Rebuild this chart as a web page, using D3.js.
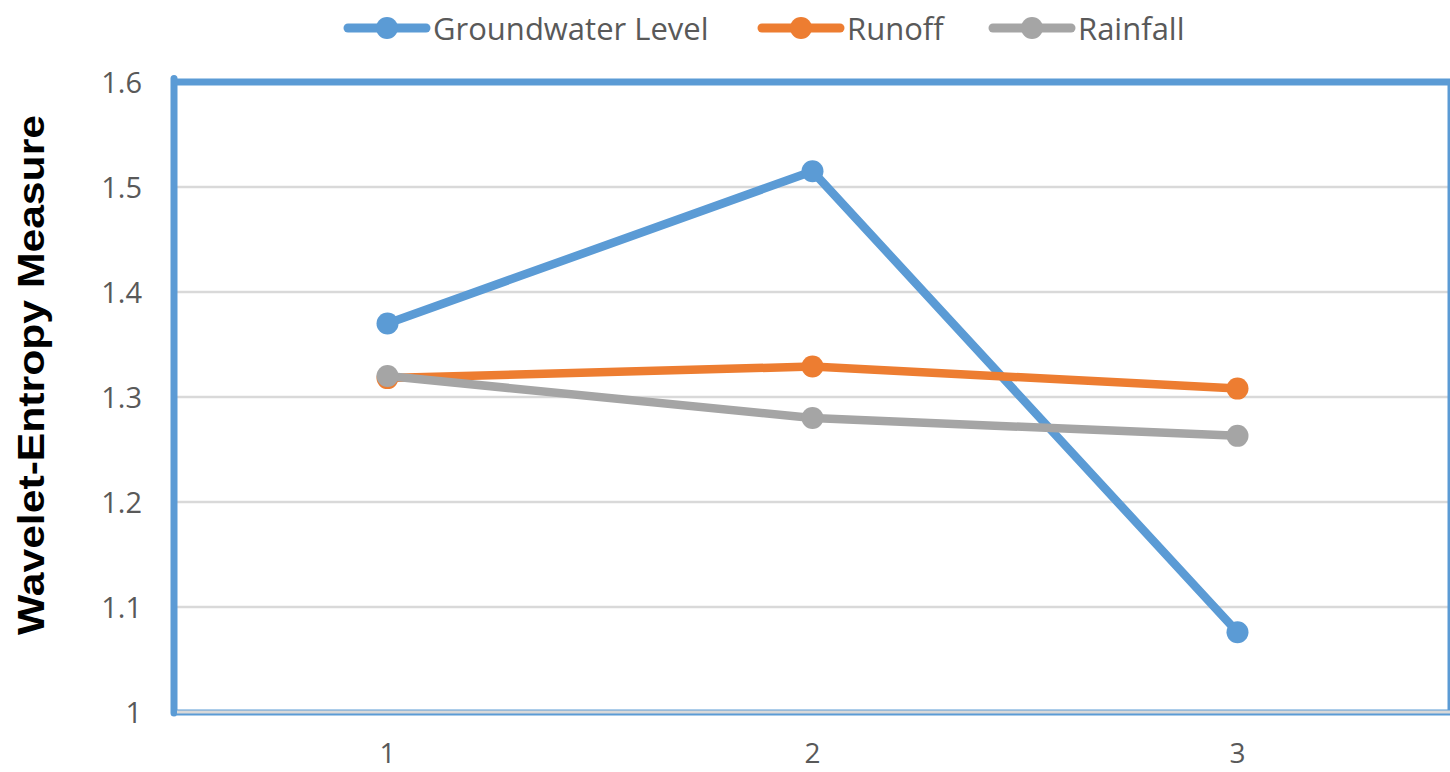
<!DOCTYPE html>
<html>
<head>
<meta charset="utf-8">
<script src="https://cdn.jsdelivr.net/npm/d3@7"></script>
<style>
  html, body { margin: 0; padding: 0; background: #fff; }
  svg { display: block; }
</style>
</head>
<body>
<svg id="chart" width="1450" height="772"></svg>
<script>
// Wavelet-entropy measure per decomposition level
const levels = [1, 2, 3];
const groundwater = [1.370, 1.515, 1.076];
const runoff = [1.318, 1.329, 1.308];
const rainfall = [1.320, 1.280, 1.263];
const yTicks = [1, 1.1, 1.2, 1.3, 1.4, 1.5, 1.6];
const seriesNames = ["Groundwater Level", "Runoff", "Rainfall"];
const seriesColors = ["#5B9BD5", "#ED7D31", "#A5A5A5"];

const series = [
  { name: seriesNames[0], values: groundwater, color: seriesColors[0] },
  { name: seriesNames[1], values: runoff, color: seriesColors[1] },
  { name: seriesNames[2], values: rainfall, color: seriesColors[2] }
];

const svg = d3.select("#chart");
const plotLeft = 175, plotRight = 1450, plotTop = 82, plotBottom = 712;
const font = "'Open Sans', 'Liberation Sans', sans-serif";

const x = d3.scaleBand().domain(levels).range([plotLeft, plotRight]);
const y = d3.scaleLinear().domain([1, 1.6]).range([plotBottom, plotTop]);

// gridlines
svg.append("g")
  .selectAll("line")
  .data(yTicks.slice(1, -1))
  .join("line")
  .attr("x1", plotLeft).attr("x2", plotRight)
  .attr("y1", d => y(d)).attr("y2", d => y(d))
  .attr("stroke", "#D9D9D9").attr("stroke-width", 2.5);

// y axis labels
const yAxis = svg.append("g")
  .attr("transform", `translate(${plotLeft - 33},0)`)
  .call(d3.axisLeft(y).tickValues(yTicks).tickFormat(d => d === 1 ? "1" : d3.format(".1f")(d)).tickSize(0).tickPadding(0));
yAxis.select(".domain").remove();
yAxis.selectAll("text")
  .attr("font-family", font).attr("font-size", 29).attr("fill", "#595959")
  .attr("dy", "0.36em");

// x axis labels
const xAxis = svg.append("g")
  .attr("transform", `translate(0,${plotBottom})`)
  .call(d3.axisBottom(x).tickSize(0).tickPadding(41));
xAxis.select(".domain").remove();
xAxis.selectAll("text")
  .attr("font-family", font).attr("font-size", 28).attr("fill", "#595959")
  .attr("dy", "0.36em");

// plot frame
svg.append("rect")
  .attr("x", plotLeft).attr("y", plotTop)
  .attr("width", plotRight - plotLeft - 1).attr("height", plotBottom - plotTop)
  .attr("fill", "none").attr("stroke", "#5B9BD5").attr("stroke-width", 3);
svg.append("line")
  .attr("x1", plotLeft - 1).attr("x2", plotLeft - 1).attr("y1", plotTop - 3.5).attr("y2", plotBottom + 1)
  .attr("stroke", "#5B9BD5").attr("stroke-width", 7).attr("stroke-linecap", "round");
svg.append("line")
  .attr("x1", plotLeft - 4).attr("x2", plotRight).attr("y1", plotTop).attr("y2", plotTop)
  .attr("stroke", "#5B9BD5").attr("stroke-width", 7);
svg.append("line")
  .attr("x1", plotLeft + 2).attr("x2", plotRight).attr("y1", plotBottom + 0.5).attr("y2", plotBottom + 0.5)
  .attr("stroke", "#5B9BD5").attr("stroke-width", 6);
svg.append("line")
  .attr("x1", plotLeft + 2).attr("x2", plotRight).attr("y1", plotBottom).attr("y2", plotBottom)
  .attr("stroke", "#D9D9D9").attr("stroke-width", 3);

// series lines and markers
const cx = d => x(d) + x.bandwidth() / 2;
const line = d3.line().x((d, i) => cx(levels[i])).y(d => y(d));

const g = svg.append("g");
series.forEach(s => {
  g.append("path")
    .attr("d", line(s.values))
    .attr("fill", "none").attr("stroke", s.color)
    .attr("stroke-width", 8.5).attr("stroke-linejoin", "round").attr("stroke-linecap", "round");
  g.selectAll(null)
    .data(s.values)
    .join("circle")
    .attr("cx", (d, i) => cx(levels[i]))
    .attr("cy", d => y(d))
    .attr("r", 11)
    .attr("fill", s.color);
});

// y axis title
svg.append("text")
  .attr("transform", "translate(31,375) rotate(-90)")
  .attr("text-anchor", "middle")
  .attr("dominant-baseline", "central")
  .attr("font-family", "'Liberation Sans', Arial, sans-serif")
  .attr("font-weight", "bold").attr("font-size", 37).attr("fill", "#000")
  .attr("textLength", 520).attr("lengthAdjust", "spacingAndGlyphs")
  .text("Wavelet-Entropy Measure");

// legend
const legendX = [344, 758, 989];
const legend = svg.append("g");
series.forEach((s, i) => {
  const lx = legendX[i];
  legend.append("line")
    .attr("x1", lx + 4).attr("x2", lx + 82).attr("y1", 28).attr("y2", 28)
    .attr("stroke", s.color).attr("stroke-width", 9).attr("stroke-linecap", "round");
  legend.append("circle")
    .attr("cx", lx + 43).attr("cy", 28).attr("r", 11).attr("fill", s.color);
  legend.append("text")
    .attr("x", lx + 89).attr("y", 28)
    .attr("dominant-baseline", "central")
    .attr("font-family", font).attr("font-size", 31).attr("fill", "#595959")
    .text(s.name);
});
</script>
</body>
</html>
